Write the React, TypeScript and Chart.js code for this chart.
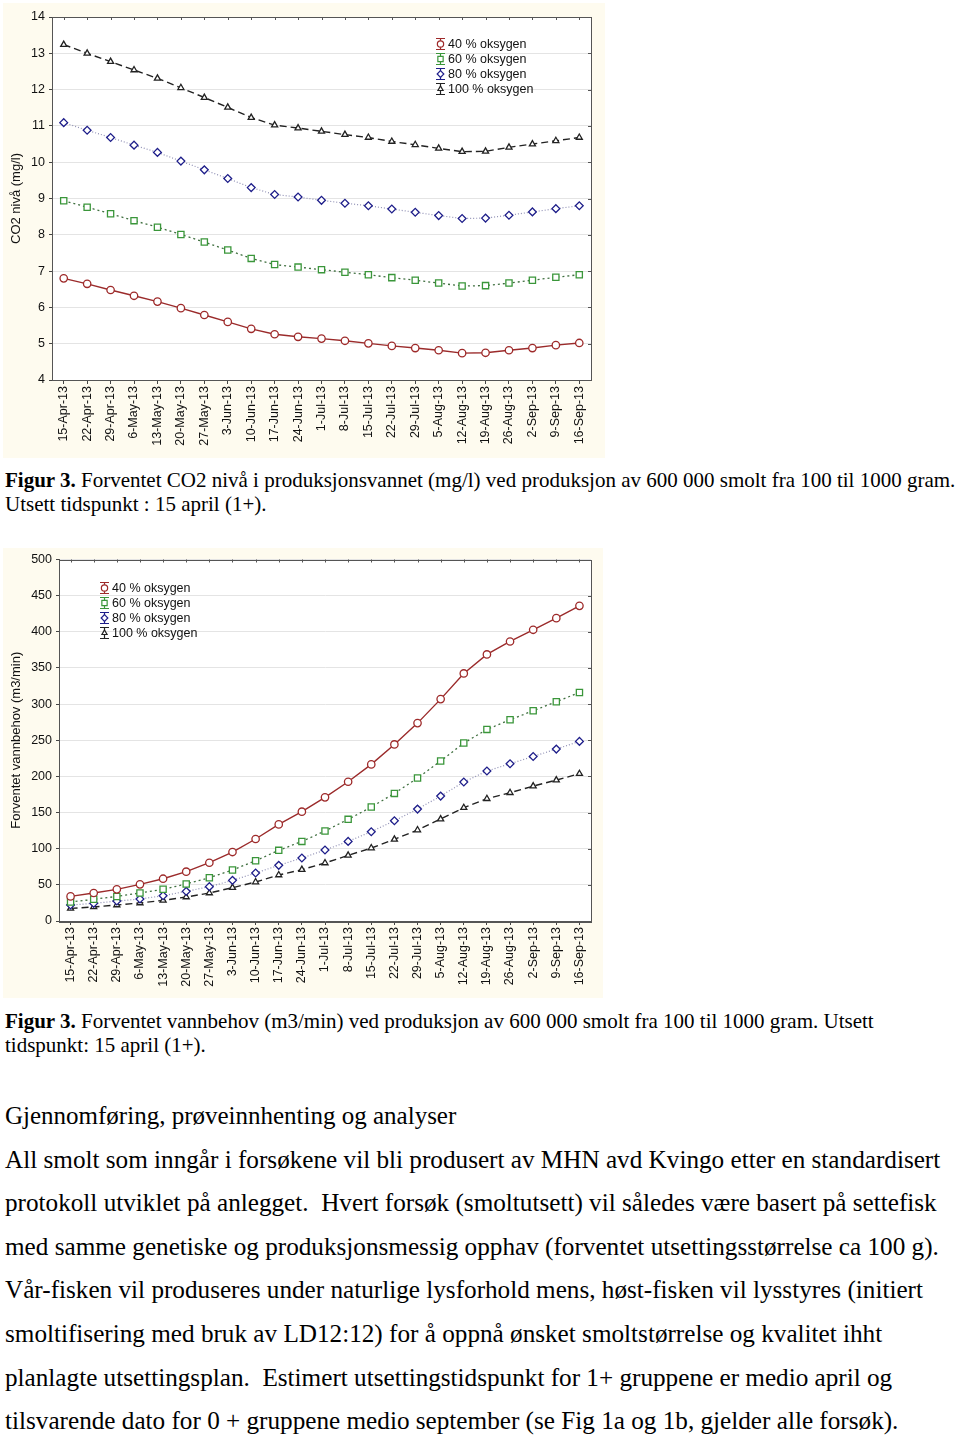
import React, { useEffect, useRef } from "react";
import { Chart, registerables } from "chart.js";

Chart.register(...registerables);

// ---------- DATA ----------
const dates = [
  "15-Apr-13", "22-Apr-13", "29-Apr-13", "6-May-13", "13-May-13", "20-May-13",
  "27-May-13", "3-Jun-13", "10-Jun-13", "17-Jun-13", "24-Jun-13", "1-Jul-13",
  "8-Jul-13", "15-Jul-13", "22-Jul-13", "29-Jul-13", "5-Aug-13", "12-Aug-13",
  "19-Aug-13", "26-Aug-13", "2-Sep-13", "9-Sep-13", "16-Sep-13",
];

const seriesNames = ["40 % oksygen", "60 % oksygen", "80 % oksygen", "100 % oksygen"];

const co2_40 = [6.80, 6.65, 6.48, 6.32, 6.16, 5.98, 5.79, 5.60, 5.41, 5.26, 5.19, 5.14, 5.08, 5.01, 4.94, 4.88, 4.82, 4.74, 4.75, 4.82, 4.88, 4.96, 5.02];
const co2_60 = [8.94, 8.76, 8.58, 8.39, 8.21, 8.01, 7.80, 7.58, 7.35, 7.18, 7.11, 7.04, 6.97, 6.90, 6.82, 6.75, 6.67, 6.59, 6.60, 6.67, 6.75, 6.83, 6.90];
const co2_80 = [11.09, 10.88, 10.68, 10.47, 10.27, 10.03, 9.79, 9.55, 9.30, 9.11, 9.04, 8.95, 8.87, 8.80, 8.71, 8.62, 8.53, 8.45, 8.46, 8.54, 8.63, 8.72, 8.80];
const co2_100 = [13.24, 13.00, 12.77, 12.54, 12.31, 12.05, 11.78, 11.51, 11.23, 11.02, 10.94, 10.85, 10.76, 10.68, 10.57, 10.48, 10.38, 10.29, 10.30, 10.41, 10.50, 10.59, 10.68];

const water_40 = [34, 38.7, 43.8, 50.7, 58.5, 68.2, 80.6, 95.4, 113.4, 133.6, 151.2, 171, 192.6, 216.6, 244.2, 273.7, 306.9, 342.4, 368.7, 386.6, 402.8, 418.9, 435.9];
const water_60 = [26.3, 30, 34, 38.7, 43.8, 51.2, 59.9, 70.5, 83.4, 97.7, 110.1, 124.4, 140.6, 157.6, 176.5, 197.7, 221.2, 246.1, 265, 278.3, 290.8, 303.2, 316.1];
const water_80 = [22.1, 24.4, 27.6, 30.4, 35, 41, 47.5, 56.2, 66.4, 77, 87.1, 98.2, 110.1, 123.5, 138.7, 154.8, 172.8, 192.2, 207.4, 217.5, 227.6, 237.8, 248.4];
const water_100 = [17.5, 19.4, 22.1, 24.9, 28.6, 33.2, 38.7, 46.1, 53.9, 63.6, 71, 80.2, 90.8, 100.9, 112.9, 125.8, 141, 156.7, 169.1, 177.4, 186.6, 194.9, 203.7];

const co2Axis = { min: 4, max: 14, step: 1, title: "CO2 nivå (mg/l)" };
const waterAxis = { min: 0, max: 500, step: 50, title: "Forventet vannbehov (m3/min)" };

// ---------- STYLES ----------
const CREAM = "#fefbef";
const SANS = '"Liberation Sans", Arial, sans-serif';
const SERIF = '"Liberation Serif", "Times New Roman", serif';

const seriesStyles = [
  { color: "#9e2a2a", line: "#9b2b2b", dash: [] as number[], point: "circle", radius: 3.7, width: 1.4 },
  { color: "#3a963a", line: "#3f6f3f", dash: [2, 3], point: "rect", radius: 4.4, width: 1.3 },
  { color: "#1e1e8a", line: "#8f8fb4", dash: [1, 2], point: "rectRot", radius: 3.9, width: 1.2 },
  { color: "#222222", line: "#222222", dash: [7, 4], point: "triangle", radius: 3.5, width: 1.4 },
];

function drawSymbol(ctx: CanvasRenderingContext2D, kind: string, x: number, y: number, r: number) {
  ctx.beginPath();
  if (kind === "circle") {
    ctx.arc(x, y, r, 0, Math.PI * 2);
  } else if (kind === "rect") {
    const s = r * Math.SQRT1_2;
    ctx.rect(x - s, y - s, 2 * s, 2 * s);
  } else if (kind === "rectRot") {
    ctx.moveTo(x, y - r);
    ctx.lineTo(x + r, y);
    ctx.lineTo(x, y + r);
    ctx.lineTo(x - r, y);
    ctx.closePath();
  } else {
    const h = r * 1.5;
    ctx.moveTo(x, y - r);
    ctx.lineTo(x + h * 0.577, y + r * 0.5);
    ctx.lineTo(x - h * 0.577, y + r * 0.5);
    ctx.closePath();
  }
  ctx.fillStyle = "#fff";
  ctx.fill();
  ctx.stroke();
}

const decorPlugin = {
  id: "decor",
  beforeDraw(chart: any) {
    const { ctx, width, height, chartArea: a } = chart;
    ctx.save();
    ctx.fillStyle = CREAM;
    ctx.fillRect(0, 0, width, height);
    ctx.fillStyle = "#ffffff";
    ctx.fillRect(a.left, a.top, a.right - a.left, a.bottom - a.top);
    ctx.restore();
  },
  afterDraw(chart: any, _args: any, opts: any) {
    const { ctx, chartArea: a } = chart;
    const xs = chart.scales.x;
    const ys = chart.scales.y;
    ctx.save();
    ctx.strokeStyle = "#555";
    ctx.lineWidth = 1;
    ctx.strokeRect(Math.round(a.left) + 0.5, Math.round(a.top) + 0.5, Math.round(a.right - a.left), Math.round(a.bottom - a.top));
    ctx.beginPath();
    for (let i = 0; i < xs.ticks.length; i++) {
      const px = Math.round(xs.getPixelForTick(i)) + 0.5;
      ctx.moveTo(px, a.top);
      ctx.lineTo(px, a.top + 3);
    }
    for (let i = 0; i < ys.ticks.length; i++) {
      const py = Math.round(ys.getPixelForTick(i)) + 0.5;
      ctx.moveTo(a.right, py);
      ctx.lineTo(a.right - 3, py);
    }
    ctx.stroke();

    // legend
    const lx = opts.x;
    let ly = opts.y;
    chart.data.datasets.forEach((ds: any, i: number) => {
      const st = seriesStyles[i];
      ctx.strokeStyle = st.color;
      ctx.lineWidth = 1.2;
      ctx.beginPath();
      ctx.moveTo(lx + 0.5, ly - 6);
      ctx.lineTo(lx + 0.5, ly + 6);
      ctx.moveTo(lx - 4, ly - 6 + 0.5);
      ctx.lineTo(lx + 5, ly - 6 + 0.5);
      ctx.moveTo(lx - 4, ly + 6 - 0.5);
      ctx.lineTo(lx + 5, ly + 6 - 0.5);
      ctx.stroke();
      drawSymbol(ctx, st.point, lx + 0.5, ly, st.radius * 0.85);
      ctx.fillStyle = "#111";
      ctx.font = `12.5px ${SANS}`;
      ctx.textBaseline = "middle";
      ctx.textAlign = "left";
      ctx.fillText(ds.label, lx + 8, ly + 0.5);
      ly += 15;
    });
    ctx.restore();
  },
};

type Cfg = {
  series: number[][];
  axis: { min: number; max: number; step: number; title: string };
  pad: { top: number; right: number };
  yWidth: number;
  xHeight: number;
  legend: { x: number; y: number };
};

function makeConfig(c: Cfg): any {
  const font = { family: SANS, size: 12.5 };
  return {
    type: "line",
    data: {
      labels: dates,
      datasets: c.series.map((vals, i) => {
        const st = seriesStyles[i];
        return {
          label: seriesNames[i],
          data: vals,
          borderColor: st.line,
          borderWidth: st.width,
          borderDash: st.dash,
          pointStyle: st.point,
          pointRadius: st.radius,
          pointBorderColor: st.color,
          pointBackgroundColor: "#ffffff",
          pointBorderWidth: 1.3,
          tension: 0,
          fill: false,
        };
      }),
    },
    options: {
      responsive: false,
      animation: false,
      devicePixelRatio: 1,
      layout: { padding: { top: c.pad.top, right: c.pad.right, left: 0, bottom: 0 } },
      plugins: {
        legend: { display: false },
        tooltip: { enabled: false },
        decor: c.legend,
      },
      scales: {
        x: {
          type: "category",
          offset: true,
          grid: { display: true, drawOnChartArea: false, drawTicks: true, tickLength: 4, tickColor: "#444" },
          border: { display: true, color: "#555", width: 1 },
          ticks: { autoSkip: false, minRotation: 90, maxRotation: 90, padding: 2, color: "#111", font },
          afterFit: (s: any) => {
            s.height = c.xHeight;
          },
        },
        y: {
          min: c.axis.min,
          max: c.axis.max,
          ticks: { stepSize: c.axis.step, padding: 4, color: "#111", font },
          grid: { color: "#e4e4e4", lineWidth: 1, drawTicks: true, tickLength: 3, tickColor: "#444" },
          border: { display: true, color: "#555", width: 1 },
          title: { display: true, text: c.axis.title, color: "#111", font: { family: SANS, size: 13 }, padding: { top: 6, bottom: 0 } },
          afterFit: (s: any) => {
            s.width = c.yWidth;
          },
        },
      },
    },
    plugins: [decorPlugin],
  };
}

function ChartBox(props: { left: number; top: number; w: number; h: number; cfg: Cfg }) {
  const ref = useRef<HTMLCanvasElement>(null);
  useEffect(() => {
    const chart = new Chart(ref.current as HTMLCanvasElement, makeConfig(props.cfg));
    return () => chart.destroy();
  }, []);
  return (
    <div style={{ position: "absolute", left: props.left, top: props.top, width: props.w, height: props.h }}>
      <canvas ref={ref} width={props.w} height={props.h} style={{ width: props.w, height: props.h, display: "block" }} />
    </div>
  );
}

function Line(props: { top: number; size: number; lh: number; children: any; ls?: number }) {
  return (
    <div
      style={{
        position: "absolute",
        left: 5,
        top: props.top,
        fontFamily: SERIF,
        fontSize: props.size,
        lineHeight: props.lh + "px",
        whiteSpace: "pre",
        color: "#000",
        letterSpacing: props.ls || 0,
      }}
    >
      {props.children}
    </div>
  );
}

const bodyLines = [
  "All smolt som inngår i forsøkene vil bli produsert av MHN avd Kvingo etter en standardisert",
  "protokoll utviklet på anlegget.  Hvert forsøk (smoltutsett) vil således være basert på settefisk",
  "med samme genetiske og produksjonsmessig opphav (forventet utsettingsstørrelse ca 100 g).",
  "Vår-fisken vil produseres under naturlige lysforhold mens, høst-fisken vil lysstyres (initiert",
  "smoltifisering med bruk av LD12:12) for å oppnå ønsket smoltstørrelse og kvalitet ihht",
  "planlagte utsettingsplan.  Estimert utsettingstidspunkt for 1+ gruppene er medio april og",
  "tilsvarende dato for 0 + gruppene medio september (se Fig 1a og 1b, gjelder alle forsøk).",
];
const bodyCenters = [1160, 1203, 1247, 1290, 1334, 1378, 1421];

export default function App() {
  const cfg1: Cfg = {
    series: [co2_40, co2_60, co2_80, co2_100],
    axis: co2Axis,
    pad: { top: 14, right: 14 },
    yWidth: 49,
    xHeight: 78,
    legend: { x: 437, y: 41 },
  };
  const cfg2: Cfg = {
    series: [water_40, water_60, water_80, water_100],
    axis: waterAxis,
    pad: { top: 11, right: 12 },
    yWidth: 56,
    xHeight: 77,
    legend: { x: 101, y: 40 },
  };
  const capSize = 21;
  const bodySize = 25.2;
  return (
    <div style={{ position: "absolute", left: 0, top: 0, width: 960, height: 1438, background: "#fff", overflow: "hidden" }}>
      <ChartBox left={3} top={3} w={602} h={455} cfg={cfg1} />
      <ChartBox left={3} top={548} w={600} h={450} cfg={cfg2} />

      <Line top={468} size={capSize} lh={24}>
        <b>Figur 3.</b> Forventet CO2 nivå i produksjonsvannet (mg/l) ved produksjon av 600 000 smolt fra 100 til 1000 gram.
      </Line>
      <Line top={492} size={capSize} lh={24}>
        Utsett tidspunkt : 15 april (1+).
      </Line>

      <Line top={1009} size={capSize} lh={24}>
        <b>Figur 3.</b> Forventet vannbehov (m3/min) ved produksjon av 600 000 smolt fra 100 til 1000 gram. Utsett
      </Line>
      <Line top={1033} size={capSize} lh={24}>
        tidspunkt: 15 april (1+).
      </Line>

      <Line top={1116 - 15} size={25} lh={30}>
        Gjennomføring, prøveinnhenting og analyser
      </Line>
      {bodyLines.map((t, i) => (
        <Line key={i} top={bodyCenters[i] - 15} size={bodySize} lh={30}>
          {t}
        </Line>
      ))}
    </div>
  );
}
